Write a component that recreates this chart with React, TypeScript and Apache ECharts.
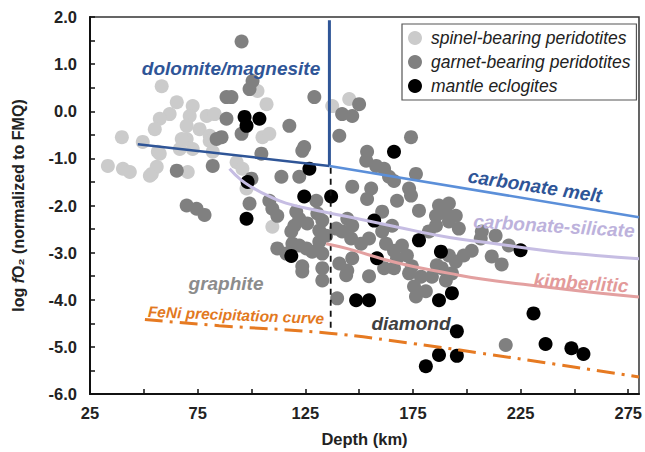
import React, { useEffect, useRef } from "react";
import * as echarts from "echarts";

// ---- data (depth km, log fO2 normalized to FMQ) ----
const spinelData: number[][] = [
  [58.3, 0.53], [39.8, -0.55], [33.3, -1.16], [40.3, -1.22], [43.5, -1.29], [53.7, -1.33], [56.0, -1.18],
  [70.4, -1.29], [65.3, 0.19], [72.7, 0.11], [62.0, -0.06], [57.4, -0.16], [55.1, -0.38], [49.5, -0.65],
  [71.3, -0.10], [79.2, -0.10], [82.9, -0.06], [69.9, -0.31], [75.9, -0.38], [80.6, -0.52], [69.9, -0.59],
  [56.5, -0.86], [52.8, -1.37], [72.7, -0.80], [82.0, -0.86], [80.6, -0.63], [102.8, 0.43], [107.0, 0.15],
  [105.1, -0.55], [108.3, -0.48], [93.1, -1.08], [95.8, -1.22], [97.7, -1.64], [109.7, -2.45], [137.5, 0.11],
  [145.4, 0.26], [66.7, -0.80], [67.6, -0.59], [57.4, -0.90],
];

const garnetData: number[][] = [
  [86.1, -0.55], [88.4, 0.30], [88.4, -0.16], [83.8, -0.59], [65.3, -1.26], [82.0, -1.16], [69.9, -2.00],
  [74.5, -2.07], [78.2, -2.20], [95.4, 1.48], [100.5, 0.64], [99.1, 0.47], [90.7, 0.30], [95.4, -0.48],
  [117.6, -0.31], [129.2, 0.30], [124.5, -0.76], [142.1, -0.06], [146.8, -0.10], [140.8, -0.52], [150.0, 0.15],
  [174.1, -0.55], [153.7, -0.86], [153.3, -1.05], [157.9, -1.16], [161.6, -1.22], [163.9, -1.39], [166.2, -1.48],
  [176.4, -1.33], [146.8, -1.60], [155.6, -1.64], [173.2, -1.64], [174.1, -1.79], [167.6, -1.90], [177.8, -2.11],
  [160.7, -2.13], [153.7, -1.86], [187.1, -2.00], [191.7, -1.96], [190.3, -2.17], [185.7, -2.22], [194.9, -2.22],
  [123.6, -0.84], [104.6, -0.90], [113.9, -1.39], [122.2, -1.39], [100.0, -1.43], [130.1, -1.90], [99.1, -1.96],
  [108.3, -1.90], [109.7, -2.07], [112.0, -2.22], [120.8, -2.13], [122.2, -2.28], [119.9, -2.43], [118.5, -2.55],
  [125.9, -2.38], [130.6, -2.17], [132.9, -2.32], [131.5, -2.53], [134.7, -2.64], [139.4, -2.49], [142.1, -2.55],
  [144.5, -2.28], [146.8, -2.43], [146.3, -2.70], [112.0, -2.91], [119.0, -2.81], [122.2, -2.85], [125.5, -2.91],
  [128.2, -2.98], [132.9, -3.02], [131.5, -2.77], [123.6, -3.29], [132.9, -3.33], [140.8, -3.23], [144.5, -3.38],
  [116.2, -3.02], [123.6, -3.40], [132.9, -3.59], [144.0, -3.48], [139.8, -3.97], [150.9, -2.81], [154.6, -2.70],
  [160.7, -2.55], [165.3, -2.43], [162.5, -2.81], [166.2, -2.96], [169.9, -2.85], [167.6, -3.12], [172.2, -3.06],
  [174.5, -3.29], [173.2, -3.44], [178.7, -3.51], [175.5, -3.72], [181.0, -3.82], [176.4, -3.93], [186.1, -3.27],
  [183.8, -3.51], [190.3, -3.59], [193.1, -3.44], [194.9, -3.19], [191.7, -3.06], [198.6, -3.06], [202.3, -2.96],
  [185.7, -2.43], [191.7, -2.34], [196.3, -2.49], [182.4, -2.55], [146.8, -3.12], [154.6, -3.50], [161.6, -3.33],
  [166.2, -3.33], [188.4, -3.33], [207.0, -2.55], [206.5, -2.70], [213.4, -2.64], [219.5, -2.85], [211.6, -3.08],
  [216.2, -3.25], [218.1, -4.96],
];

const eclogiteData: number[][] = [
  [96.8, -0.12], [97.7, -0.31], [103.7, -0.16], [126.9, -1.22], [124.5, -1.81], [137.0, -1.81], [98.2, -1.50],
  [97.7, -2.28], [118.5, -3.07], [166.2, -0.86], [157.0, -2.32], [177.8, -2.74], [188.0, -2.98], [158.3, -3.12],
  [193.1, -3.86], [187.1, -4.01], [148.6, -4.01], [154.6, -4.01], [195.4, -4.67], [187.1, -5.17], [195.4, -5.19],
  [181.0, -5.41], [225.0, -2.95], [231.0, -4.29], [236.6, -4.94], [248.6, -5.03], [254.2, -5.15],
];

const dolomiteSlope: number[][] = [[47.2, -0.70], [136.2, -1.16]];
const dolomiteVertical: number[][] = [[136.2, -1.16], [136.2, 1.93]];
const carbonateMelt: number[][] = [[136.2, -1.16], [280, -2.25]];
const graphiteDiamond: number[][] = [[136.8, -1.2], [136.8, -4.72]];
const carbSilicate: number[][] = [
  [89.8, -1.22], [95, -1.45], [100.5, -1.62], [108, -1.80], [116, -1.95], [131, -2.11], [145, -2.24],
  [167, -2.45], [192, -2.68], [210, -2.79], [237, -2.96], [260, -3.06], [280, -3.13],
];
const kimberlitic: number[][] = [
  [134.7, -2.81], [145, -2.92], [168, -3.22], [192, -3.44], [207, -3.56], [237, -3.73], [260, -3.85], [280, -3.94],
];
const feniCurve: number[][] = [
  [50.5, -4.42], [85, -4.55], [136, -4.71], [175, -4.93], [206, -5.13], [240, -5.36], [280, -5.64],
];

const xTickLabels = [25, 75, 125, 175, 225, 275];
const yTickLabels = [2, 1, 0, -1, -2, -3, -4, -5, -6];

const FONT = "'Liberation Sans', Arial, Helvetica, sans-serif";

function lineSeries(data: number[][], color: string, width: number, type: any = "solid", smooth = false, z = 5) {
  return {
    type: "line",
    data,
    showSymbol: false,
    symbol: "none",
    smooth,
    silent: true,
    z,
    lineStyle: { color, width, type },
    emphasis: { disabled: true },
  };
}

function label(text: string, x: number, y: number, size: number, color: string, rotation = 0) {
  return {
    type: "text",
    x,
    y,
    rotation,
    z: 20,
    silent: true,
    style: {
      text,
      fill: color,
      fontSize: size,
      fontWeight: "bold",
      fontStyle: "italic",
      fontFamily: FONT,
      align: "center",
      verticalAlign: "middle",
      textAlign: "center",
      textVerticalAlign: "middle",
    },
  };
}

export default function App() {
  const ref = useRef<HTMLDivElement>(null);
  useEffect(() => {
    if (!ref.current) return;
    const chart = echarts.init(ref.current, null, { renderer: "svg" });
    const option: any = {
      animation: false,
      backgroundColor: "#ffffff",
      grid: {
        left: 90,
        right: 5,
        top: 17,
        bottom: 56,
        show: true,
        borderColor: "#333",
        borderWidth: 1.5,
        backgroundColor: "transparent",
      },
      legend: {
        data: ["spinel-bearing peridotites", "garnet-bearing peridotites", "mantle eclogites"],
        orient: "vertical",
        left: 402,
        top: 24,
        icon: "circle",
        itemWidth: 14,
        itemHeight: 14,
        itemGap: 6,
        padding: [5, 6, 5, 6],
        borderColor: "#555",
        borderWidth: 1.2,
        selectedMode: false,
        textStyle: {
          fontFamily: FONT,
          fontStyle: "italic",
          fontSize: 17.5,
          lineHeight: 16,
          color: "#222",
          padding: [0, 0, 0, 4],
        },
      },
      xAxis: {
        type: "value",
        min: 25,
        max: 280,
        interval: 25,
        name: "Depth (km)",
        nameLocation: "middle",
        nameGap: 36,
        nameTextStyle: { fontFamily: FONT, fontWeight: "bold", fontSize: 16.5, color: "#222" },
        axisLine: { show: true, onZero: false, lineStyle: { color: "#111", width: 2 } },
        axisTick: { show: true, inside: true, length: 5, lineStyle: { color: "#111", width: 1.5 } },
        splitLine: { show: false },
        axisLabel: {
          margin: 10,
          fontFamily: FONT,
          fontWeight: "bold",
          fontSize: 16.5,
          color: "#222",
          showMaxLabel: false,
          formatter: (v: number) => (xTickLabels.indexOf(v) >= 0 ? String(v) : ""),
        },
      },
      yAxis: {
        type: "value",
        min: -6,
        max: 2,
        interval: 0.5,
        name: "{a|log }{i|f}{a|O₂ (normalized to FMQ)}",
        nameLocation: "middle",
        nameGap: 64,
        nameRotate: 90,
        nameTextStyle: {
          rich: {
            a: { fontFamily: FONT, fontWeight: "bold", fontSize: 16, color: "#222" },
            i: { fontFamily: FONT, fontWeight: "bold", fontStyle: "italic", fontSize: 16, color: "#222" },
          },
        },
        axisLine: { show: true, onZero: false, lineStyle: { color: "#111", width: 2 } },
        axisTick: { show: true, inside: true, length: 5, lineStyle: { color: "#111", width: 1.5 } },
        splitLine: { show: false },
        axisLabel: {
          margin: 13,
          fontFamily: FONT,
          fontWeight: "bold",
          fontSize: 16.5,
          color: "#222",
          formatter: (v: number) => (yTickLabels.indexOf(v) >= 0 ? v.toFixed(1) : ""),
        },
      },
      series: [
        {
          name: "spinel-bearing peridotites",
          type: "scatter",
          data: spinelData,
          symbolSize: 14,
          itemStyle: { color: "#cbcbcb", opacity: 1 },
          emphasis: { disabled: true },
          z: 2,
        },
        {
          name: "garnet-bearing peridotites",
          type: "scatter",
          data: garnetData,
          symbolSize: 14,
          itemStyle: { color: "#808080", opacity: 1 },
          emphasis: { disabled: true },
          z: 2,
        },
        {
          name: "mantle eclogites",
          type: "scatter",
          data: eclogiteData,
          symbolSize: 14,
          itemStyle: { color: "#000000", opacity: 1 },
          emphasis: { disabled: true },
          z: 3,
        },
        lineSeries(dolomiteSlope, "#2f5597", 2.5),
        lineSeries(dolomiteVertical, "#2f5597", 3),
        lineSeries(carbonateMelt, "#5b8fd9", 2.5),
        lineSeries(graphiteDiamond, "#111", 1.8, [6, 5]),
        lineSeries(carbSilicate, "#c6bde3", 3, "solid", true),
        lineSeries(kimberlitic, "#e3a0a0", 3, "solid", true),
        lineSeries(feniCurve, "#e67a22", 3, [18, 7, 3, 7], true),
      ],
      graphic: [
        label("dolomite/magnesite", 231, 68, 19, "#2f5597"),
        label("carbonate melt", 535, 186, 19, "#2f5597", -0.15),
        label("carbonate-silicate", 554, 226, 19, "#bdb2dc", -0.06),
        label("kimberlitic", 581, 283, 19, "#e39a9a", -0.06),
        label("graphite", 226, 283, 19, "#8c8c8c"),
        label("diamond", 411, 323, 19, "#404040"),
        label("FeNi precipitation curve", 236, 315, 15.5, "#e2791f", -0.04),
      ],
    };
    chart.setOption(option);
    return () => chart.dispose();
  }, []);
  return (
    <div
      ref={ref}
      style={{ position: "fixed", left: 0, top: 0, width: 645, height: 452 }}
    />
  );
}
